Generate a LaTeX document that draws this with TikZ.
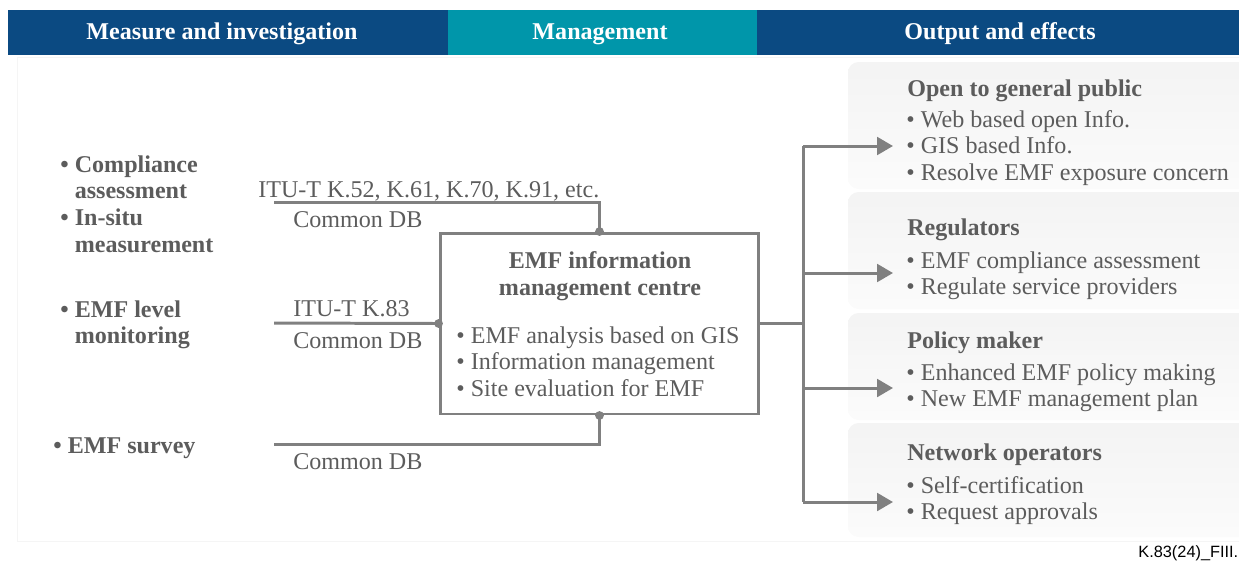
\documentclass[tikz,border=0pt]{standalone}
\usepackage{fontspec}
\setmainfont{Liberation Serif}
\newfontfamily\footfont{Liberation Sans}
\usetikzlibrary{arrows.meta}
\definecolor{hdblue}{RGB}{11,74,130}
\definecolor{hdteal}{RGB}{0,150,170}
\definecolor{txtgray}{RGB}{92,92,92}
\definecolor{linegray}{RGB}{128,128,128}
\newcommand\mlines[1]{\begin{tabular}[t]{@{}l@{}}#1\end{tabular}}
\begin{document}
\begin{tikzpicture}[x=0.02cm,y=-0.02cm,
  txt/.style={inner sep=0pt, anchor=base west, text=txtgray, font=\fontsize{13.7}{15.2}\selectfont},
  btxt/.style={txt, font=\fontsize{13.7}{15.2}\selectfont\bfseries},
  hd/.style={inner sep=0pt, anchor=base, text=white, font=\fontsize{13.7}{15.2}\selectfont\bfseries},
  conn/.style={draw=linegray, line width=1.7pt},
  arr/.style={conn, -{Triangle[length=9pt,width=10pt]}},
  dot/.style={circle, fill=linegray, inner sep=0pt, minimum size=5pt},
  panel/.style={rounded corners=6pt, top color=gray!9, bottom color=gray!3, draw=none}]
\useasboundingbox (0,0) rectangle (1239,562);
% background frame
\draw[gray!8] (17,57) rectangle (1239,541);
% header
\fill[hdblue] (8,10) rectangle (448,55);
\fill[hdteal] (448,10) rectangle (757,55);
\fill[hdblue] (757,10) rectangle (1239,55);
\node[hd] (h1) at (222,39) {Measure and investigation};
\node[hd] (h2) at (600,39) {Management};
\node[hd] (h3) at (1000,39) {Output and effects};
% panels
\path[panel] (848,62) rectangle (1252,189);
\path[panel] (848,192) rectangle (1252,309);
\path[panel] (848,313) rectangle (1252,420);
\path[panel] (848,423) rectangle (1252,537);
% left texts
\node[btxt] (m1) at (60,172) {\mlines{• Compliance\\\phantom{• }assessment\\• In-situ\\\phantom{• }measurement}};
\node[btxt] (m2) at (60,317) {\mlines{• EMF level\\\phantom{• }monitoring}};
\node[btxt] (m3) at (53,453) {• EMF survey};
% labels
\node[txt] (l1) at (258,197) {ITU-T K.52, K.61, K.70, K.91, etc.};
\node[txt] (c1) at (293,227) {Common DB};
\node[txt] (l2) at (293,316) {ITU-T K.83};
\node[txt] (c2) at (293,348) {Common DB};
\node[txt] (c3) at (293,469) {Common DB};
% centre box
\node[conn, rectangle, minimum width=6.38cm, minimum height=3.62cm, inner sep=0pt] (emf) at (599.5,323.5) {};
\node[hd, text=txtgray] (t1) at (600,268) {EMF information};
\node[hd, text=txtgray] (t2) at (600,295) {management centre};
\node[txt] (t3) at (456,343) {\mlines{• EMF analysis based on GIS\\• Information management\\• Site evaluation for EMF}};
% connectors in
\coordinate (s1) at (274,202);
\coordinate (s2) at (274,323);
\coordinate (s3) at (274,444);
\draw[conn] (s1) -- (s1 -| emf.north) -- (emf.north);
\draw[conn] (s2) -- (emf.west);
\draw[conn] (s3) -- (s3 -| emf.south) -- (emf.south);
\node[dot] at (emf.north) {};
\node[dot] at (emf.west) {};
\node[dot] at (emf.south) {};
% connectors out
\coordinate (j) at (803,323.5);
\coordinate (v1) at (803,146);
\coordinate (v2) at (803,273);
\coordinate (v3) at (803,388);
\coordinate (v4) at (803,502);
\coordinate (a1) at (893,146);
\coordinate (a2) at (893,273);
\coordinate (a3) at (893,388);
\coordinate (a4) at (893,502);
\draw[conn] (emf.east) -- (j);
\draw[conn] (v1) -- (v4);
\draw[arr] (v1) -- (a1);
\draw[arr] (v2) -- (a2);
\draw[arr] (v3) -- (a3);
\draw[arr] (v4) -- (a4);
% right texts
\node[btxt] (o1) at (907,96) {Open to general public};
\node[txt] (o1b) at (906,127) {\mlines{• Web based open Info.\\• GIS based Info.\\• Resolve EMF exposure concern}};
\node[btxt] (o2) at (907,235) {Regulators};
\node[txt] (o2b) at (906,268) {\mlines{• EMF compliance assessment\\• Regulate service providers}};
\node[btxt] (o3) at (907,348) {Policy maker};
\node[txt] (o3b) at (906,380) {\mlines{• Enhanced EMF policy making\\• New EMF management plan}};
\node[btxt] (o4) at (907,460) {Network operators};
\node[txt] (o4b) at (906,493) {\mlines{• Self-certification\\• Request approvals}};
% footer
\begin{scope}
\clip (0,0) rectangle (1239,562);
\node[inner sep=0pt, anchor=base west, font=\footfont\fontsize{9.3}{11}\selectfont] (fig) at (1138,557) {K.83(24)\_FIII.1};
\end{scope}
\end{tikzpicture}
\end{document}
